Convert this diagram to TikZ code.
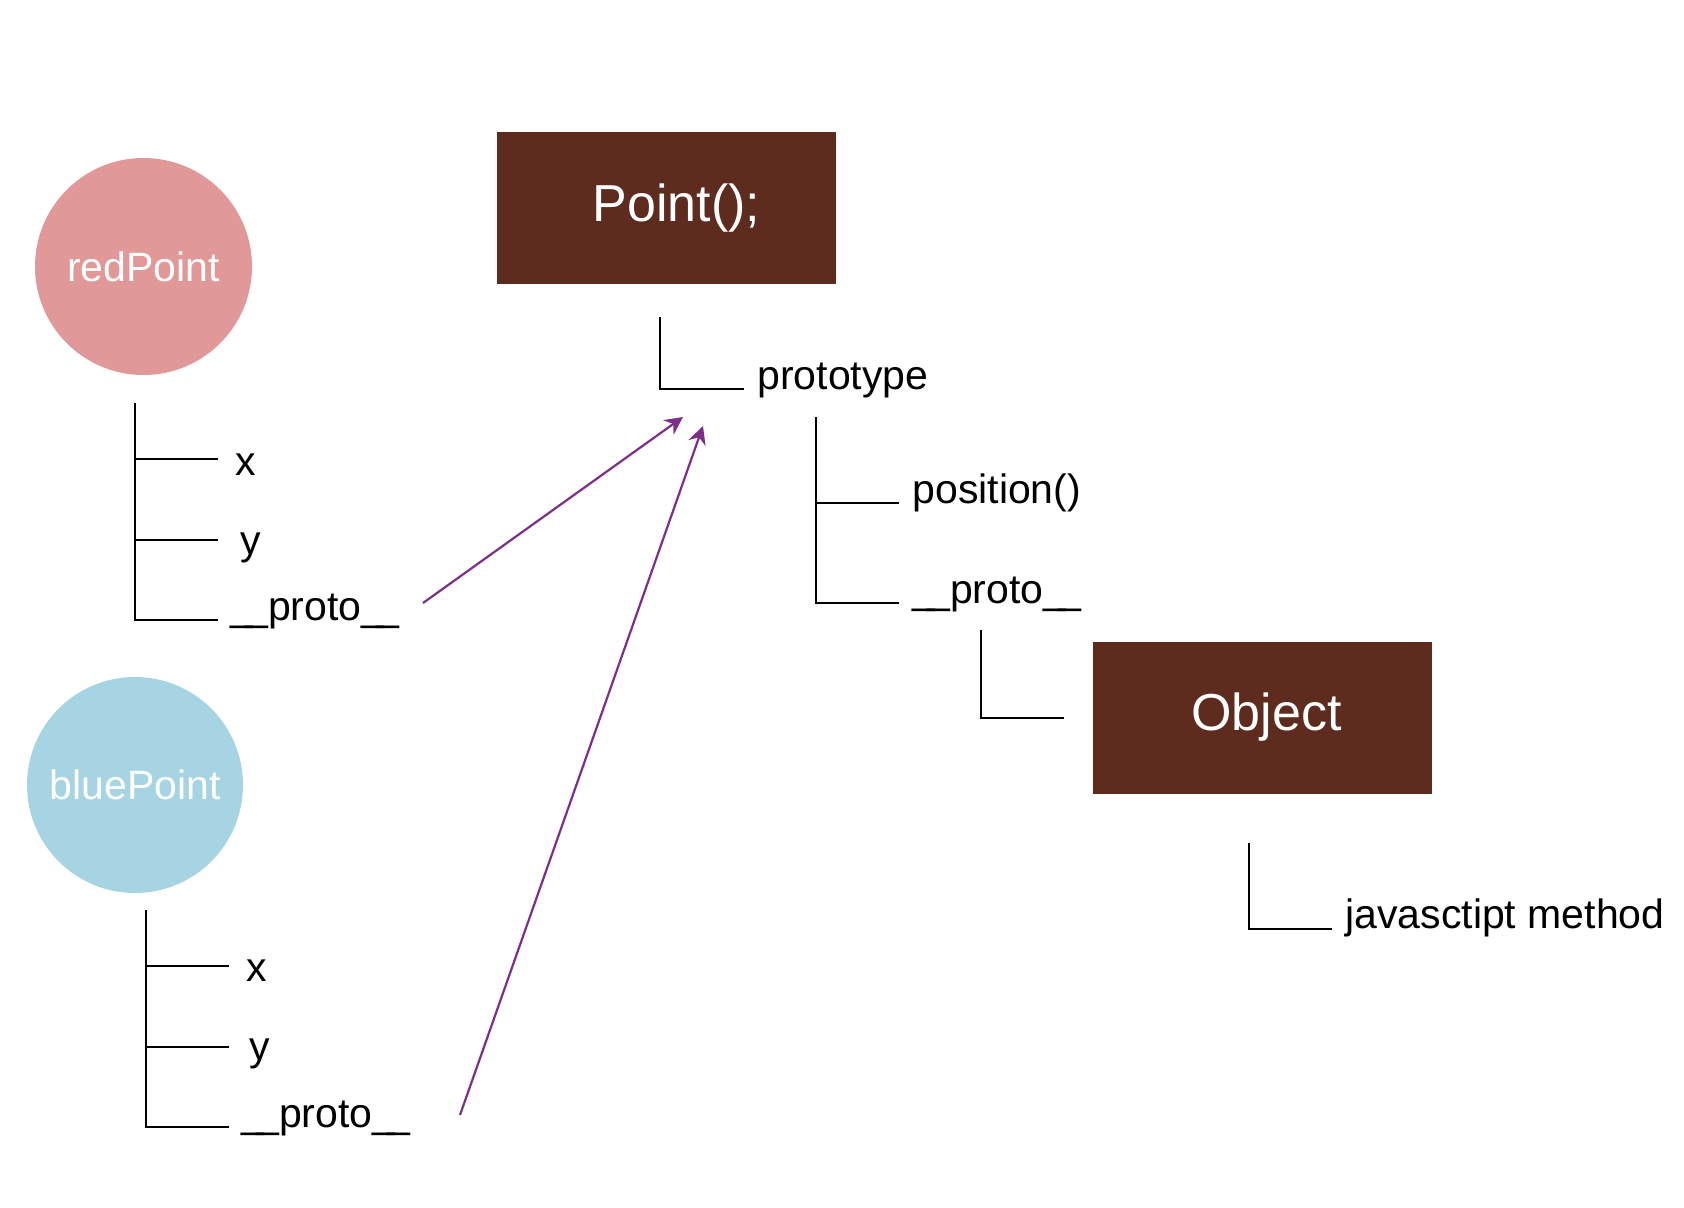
\documentclass[tikz,border=0pt]{standalone}
\usepackage{fontspec}
\setmainfont{Liberation Sans}
\usetikzlibrary{arrows.meta,positioning}
\definecolor{boxbrown}{RGB}{93,44,31}
\definecolor{redpt}{RGB}{224,152,153}
\definecolor{bluept}{RGB}{166,212,227}
\definecolor{protopurple}{RGB}{124,46,138}
% two underscores drawn as one bar
\newcommand{\dunder}{\_\kern-4pt\_}
\tikzset{
    %Define standard arrow tip
    >={Stealth[length=9pt,width=9pt,inset=3pt]},
    %Define style for the objects
    instance/.style={
           circle,
           inner sep=0pt,
           minimum size=108.5pt,
           font=\fontsize{20.5}{24}\selectfont,
           text=white,
           text centered,
           },
    %Define style for boxes
    ctor/.style={
           rectangle,
           inner sep=0pt,
           minimum width=169.5pt,
           minimum height=76pt,
           fill=boxbrown,
           font=\fontsize{26}{30}\selectfont,
           text=white,
           text centered,
           },
    member/.style={
           anchor=base west,
           inner sep=0pt,
           font=\fontsize{20.5}{24}\selectfont,
           },
    % Define line styles
    branch/.style={
           -,
           line width=1.3pt,
           },
    pil/.style={
           ->,
           line width=1.1pt,
           draw=protopurple,
           fill=protopurple,
           },
}
\begin{document}
\begin{tikzpicture}[x=0.5pt,y=-0.5pt]
\useasboundingbox (0,0) rectangle (1684,1208);
\node[instance, fill=redpt] (red) at (143.5,266.5) {redPoint};
\node[instance, fill=bluept, minimum size=108pt] (blue) at (135,785) {bluePoint};
\node[ctor] (point) at (666.5,208) {\hspace*{10pt}Point();};
\node[ctor] (object) at (1262.5,717.5) {\hspace*{4pt}Object};
% redPoint
\coordinate (redtop) at (135,403);
\coordinate (redx) at (218,459);
\coordinate (redy) at (218,540);
\coordinate (redp) at (218,620);
\node[member] (redxl) at (235,475) {x};
\node[member] (redyl) at (240,554) {y};
\node[member] (redpl) at (230,620) {\dunder proto\dunder};
\draw[branch] (redtop) |- (redx) (redtop) |- (redy) (redtop) |- (redp);
% bluePoint
\coordinate (bluetop) at (146,910);
\coordinate (bluex) at (229,966);
\coordinate (bluey) at (229,1047);
\coordinate (bluep) at (229,1127);
\node[member] (bluexl) at (246,981) {x};
\node[member] (blueyl) at (249,1060) {y};
\node[member] (bluepl) at (241,1127) {\dunder proto\dunder};
\draw[branch] (bluetop) |- (bluex) (bluetop) |- (bluey) (bluetop) |- (bluep);
% Point();
\coordinate (pointtop) at (660,317);
\coordinate (pointp) at (744,389);
\node[member] (protol) at (757,389) {prototype};
\draw[branch] (pointtop) |- (pointp);
\coordinate (prototop) at (816,417);
\coordinate (protopos) at (899,503);
\coordinate (protop) at (899,603);
\node[member] (posl) at (912,503) {position()};
\node[member] (protopl) at (912,603) {\dunder proto\dunder};
\draw[branch] (prototop) |- (protopos) (prototop) |- (protop);
\coordinate (objtop) at (981,630);
\coordinate (objin) at (1064,718);
\draw[branch] (objtop) |- (objin);
% Object
\coordinate (objecttop) at (1249,843);
\coordinate (objectm) at (1332,929);
\node[member] (jsl) at (1345,928) {javasctipt method};
\draw[branch] (objecttop) |- (objectm);
% links
\coordinate (redarr) at (423,603);
\coordinate (bluearr) at (460,1115);
\coordinate (protoin1) at (683,417);
\coordinate (protoin2) at (703,426);
\draw[pil] (redarr) -- (protoin1);
\draw[pil] (bluearr) -- (protoin2);
\end{tikzpicture}
\end{document}
